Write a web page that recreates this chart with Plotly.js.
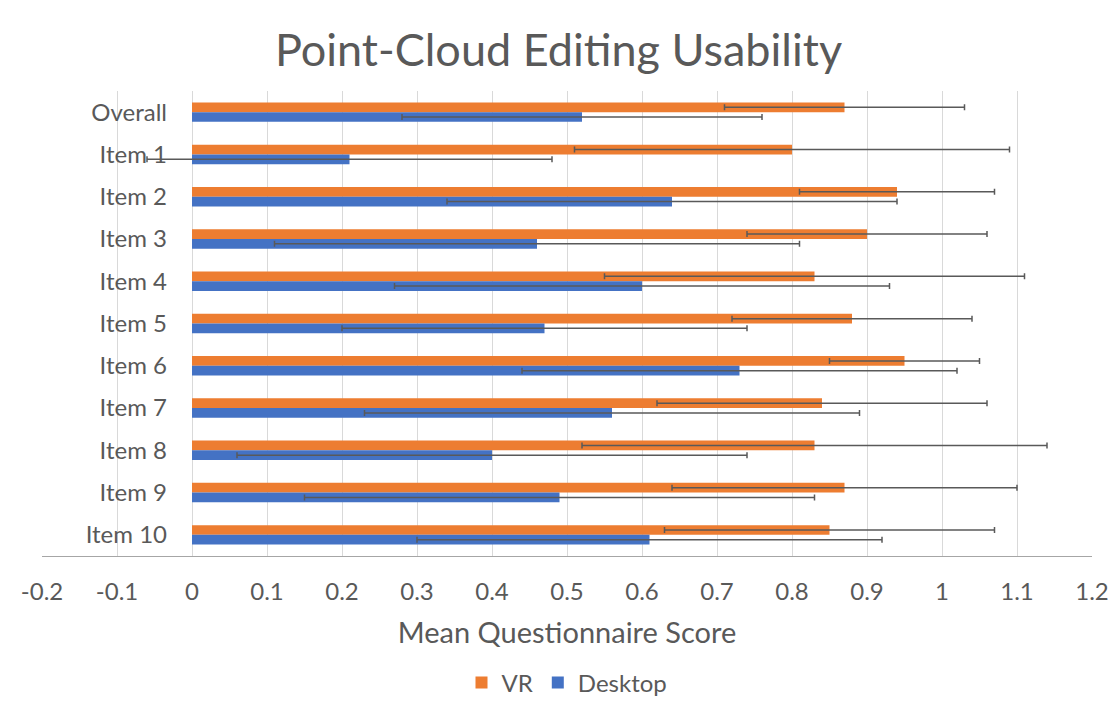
<!DOCTYPE html>
<html>
<head>
<meta charset="utf-8">
<script src="https://cdn.plot.ly/plotly-3.0.1.min.js"></script>
<style>
  html, body { margin: 0; padding: 0; background: #fff; }
  #chart { width: 1117px; height: 701px; }
</style>
</head>
<body>
<div id="chart"></div>
<script>
    // Values
    const items = ['Overall', 'Item 1', 'Item 2', 'Item 3', 'Item 4', 'Item 5',
                   'Item 6', 'Item 7', 'Item 8', 'Item 9', 'Item 10'];
    const vrMean = [0.87, 0.80, 0.94, 0.90, 0.83, 0.88, 0.95, 0.84, 0.83, 0.87, 0.85];
    const vrErr  = [0.16, 0.29, 0.13, 0.16, 0.28, 0.16, 0.10, 0.22, 0.31, 0.23, 0.22];
    const deskMean = [0.52, 0.21, 0.64, 0.46, 0.60, 0.47, 0.73, 0.56, 0.40, 0.49, 0.61];
    const deskErr  = [0.24, 0.27, 0.30, 0.35, 0.33, 0.27, 0.29, 0.33, 0.34, 0.34, 0.31];
    const xTicks = [-0.2, -0.1, 0, 0.1, 0.2, 0.3, 0.4, 0.5, 0.6, 0.7, 0.8, 0.9, 1, 1.1, 1.2];

    const textColor = '#595959';
    const errStyle = { type: 'data', visible: true, color: '#595959', thickness: 1.5, width: 3 };

    const vr = {
        type: 'bar',
        orientation: 'h',
        name: 'VR',
        y: items,
        x: vrMean,
        marker: { color: '#ED7D31' },
        error_x: Object.assign({ array: vrErr }, errStyle)
    };

    const desktop = {
        type: 'bar',
        orientation: 'h',
        name: 'Desktop',
        y: items,
        x: deskMean,
        marker: { color: '#4472C4' },
        error_x: Object.assign({ array: deskErr }, errStyle)
    };

    const layout = {
        width: 1117,
        height: 701,
        margin: { l: 42, r: 25, t: 91, b: 145, autoexpand: false },
        paper_bgcolor: '#ffffff',
        plot_bgcolor: '#ffffff',
        font: { family: 'Lato, "Open Sans", sans-serif', color: textColor },
        title: {
            text: 'Point-Cloud Editing Usability',
            font: { size: 45, color: textColor },
            x: 0.5,
            xanchor: 'center',
            y: 0.928,
            yanchor: 'middle'
        },
        barmode: 'group',
        bargap: 0.54,
        bargroupgap: 0,
        xaxis: {
            range: [-0.2, 1.2],
            tickvals: xTicks,
            ticktext: xTicks.map(String),
            tickfont: { size: 24, color: textColor },
            showgrid: true,
            gridcolor: '#d9d9d9',
            gridwidth: 1,
            zeroline: true,
            zerolinecolor: '#d9d9d9',
            zerolinewidth: 1,
            showline: true,
            linecolor: '#a6a6a6',
            linewidth: 1,
            ticks: '',
            ticklabelstandoff: 14,
            automargin: false,
            title: {
                text: 'Mean Questionnaire Score',
                font: { size: 29, color: textColor },
                standoff: 18
            }
        },
        yaxis: {
            autorange: 'reversed',
            anchor: 'free',
            position: 0.2 / 1.4,
            showgrid: false,
            showline: false,
            zeroline: false,
            ticks: '',
            ticklabelstandoff: 25,
            automargin: false,
            tickfont: { size: 24, color: textColor }
        },
        showlegend: true,
        legend: {
            orientation: 'h',
            x: 0.5,
            xanchor: 'center',
            y: -0.273,
            yanchor: 'middle',
            font: { size: 24, color: textColor },
            traceorder: 'normal'
        }
    };

    const config = { displayModeBar: false, responsive: false };

    Plotly.newPlot('chart', [vr, desktop], layout, config);
</script>
</body>
</html>
